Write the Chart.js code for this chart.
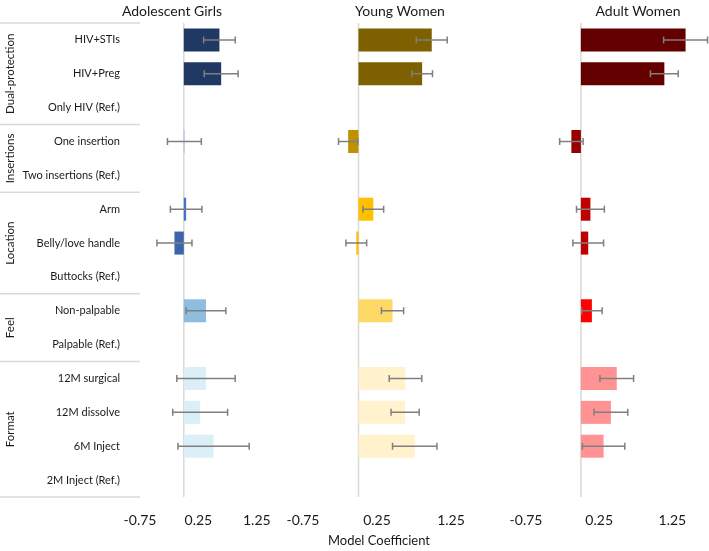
<!DOCTYPE html>
<html>
<head>
<meta charset="utf-8">
<script src="https://cdn.jsdelivr.net/npm/chart.js@4.4.0/dist/chart.umd.min.js"></script>
<style>
  body { margin: 0; background: #fff; }
  #wrap { position: relative; width: 709px; height: 551px; overflow: hidden; font-family: Lato, sans-serif; color: #1a1a1a; }
  canvas { position: absolute; top: 0; }
  .ttl { position: absolute; white-space: nowrap; transform: translateX(-50%); }
</style>
</head>
<body>
<div id="wrap">
  <canvas id="girls" width="310" height="551" style="left:0"></canvas>
  <canvas id="young" width="236" height="551" style="left:277px"></canvas>
  <canvas id="adult" width="209" height="551" style="left:500px"></canvas>
  <div class="ttl" style="left:172px; top:2px; font-size:14px">Adolescent Girls</div>
  <div class="ttl" style="left:400px; top:2px; font-size:14px">Young Women</div>
  <div class="ttl" style="left:638px; top:2px; font-size:14px">Adult Women</div>
  <div class="ttl" style="left:379px; top:532px; font-size:13px">Model Coefficient</div>
</div>
<script>
// categories, top to bottom
const categories = ['HIV+STIs', 'HIV+Preg', 'Only HIV (Ref.)', 'One insertion', 'Two insertions (Ref.)',
  'Arm', 'Belly/love handle', 'Buttocks (Ref.)', 'Non-palpable', 'Palpable (Ref.)',
  '12M surgical', '12M dissolve', '6M Inject', '2M Inject (Ref.)'];
// attribute groups and how many rows each covers
const groupNames = ['Dual-protection', 'Insertions', 'Location', 'Feel', 'Format'];
const groupSizes = [3, 2, 3, 2, 4];

// coefficients and error bar half-widths
const girlsCoef = [0.61, 0.64, 0, 0.01, 0, 0.04, -0.16, 0, 0.38, 0, 0.38, 0.28, 0.51, 0];
const girlsErr  = [0.27, 0.29, 0, 0.29, 0, 0.27, 0.30, 0, 0.34, 0, 0.50, 0.47, 0.61, 0];
const youngCoef = [0.99, 0.86, 0, -0.14, 0, 0.20, -0.03, 0, 0.46, 0, 0.635, 0.63, 0.76, 0];
const youngErr  = [0.21, 0.14, 0, 0.13, 0, 0.14, 0.14, 0, 0.15, 0, 0.22, 0.19, 0.30, 0];
const adultCoef = [1.43, 1.14, 0, -0.13, 0, 0.13, 0.10, 0, 0.15, 0, 0.49, 0.41, 0.31, 0];
const adultErr  = [0.30, 0.19, 0, 0.16, 0, 0.19, 0.21, 0, 0.14, 0, 0.23, 0.23, 0.29, 0];

const tickValues = [-0.75, 0.25, 1.25];

// one colour per group
const girlsColors = ['#203864', '#8faadc', '#4472c4', '#8fbde0', '#dbeff8'];
const youngColors = ['#7f6000', '#bf9000', '#ffc000', '#ffd966', '#fff2cc'];
const adultColors = ['#640000', '#960000', '#c00000', '#ff0000', '#ff9393'];

function perRow(cols) {
  const out = [];
  groupSizes.forEach((n, g) => { for (let i = 0; i < n; i++) out.push(cols[g]); });
  return out;
}

// belly bar a touch darker than arm in the girls panel
const girlsRowColors = perRow(girlsColors);
girlsRowColors[6] = '#3b64ad';

const zeroLine = {
  id: 'zeroLine',
  beforeDatasetsDraw(chart) {
    const { ctx, chartArea } = chart;
    const px = chart.scales.x.getPixelForValue(0);
    ctx.save();
    ctx.strokeStyle = '#d9d9d9';
    ctx.lineWidth = 1.5;
    ctx.beginPath();
    ctx.moveTo(px, chartArea.top);
    ctx.lineTo(px, chartArea.bottom);
    ctx.stroke();
    ctx.restore();
  }
};

const errorBars = {
  id: 'errorBars',
  afterDatasetsDraw(chart, args, opts) {
    const { ctx } = chart;
    const xs = chart.scales.x;
    const meta = chart.getDatasetMeta(0);
    const vals = chart.data.datasets[0].data;
    ctx.save();
    ctx.strokeStyle = '#7f7f7f';
    ctx.lineWidth = 1.5;
    opts.err.forEach((e, i) => {
      if (!e) return;
      const yc = meta.data[i].y;
      const x0 = xs.getPixelForValue(vals[i] - e);
      const x1 = xs.getPixelForValue(vals[i] + e);
      ctx.beginPath();
      ctx.moveTo(x0, yc); ctx.lineTo(x1, yc);
      ctx.moveTo(x0, yc - 3.5); ctx.lineTo(x0, yc + 3.5);
      ctx.moveTo(x1, yc - 3.5); ctx.lineTo(x1, yc + 3.5);
      ctx.stroke();
    });
    ctx.restore();
  }
};

// group separators and rotated group names, left of the first panel
const groupLabels = {
  id: 'groupLabels',
  afterDraw(chart) {
    const { ctx } = chart;
    const ys = chart.scales.y;
    const rowH = (ys.bottom - ys.top) / categories.length;
    ctx.save();
    ctx.strokeStyle = '#d9d9d9';
    ctx.lineWidth = 1.5;
    ctx.fillStyle = '#1a1a1a';
    ctx.font = '11.5px Lato';
    ctx.textAlign = 'center';
    ctx.textBaseline = 'middle';
    let start = 0;
    const lines = [ys.top];
    groupSizes.forEach((n, g) => {
      const top = ys.top + start * rowH;
      const bot = ys.top + (start + n) * rowH;
      lines.push(bot);
      ctx.save();
      ctx.translate(10, (top + bot) / 2);
      ctx.rotate(-Math.PI / 2);
      ctx.fillText(groupNames[g], 0, 0);
      ctx.restore();
      start += n;
    });
    lines.forEach(yy => {
      ctx.beginPath();
      ctx.moveTo(0, yy);
      ctx.lineTo(140, yy);
      ctx.stroke();
    });
    ctx.restore();
  }
};

Chart.defaults.font.family = 'Lato';
Chart.defaults.color = '#1a1a1a';

function makePanel(id, coef, err, colors, padding, showLabels) {
  const plugins = [zeroLine, errorBars];
  if (showLabels) plugins.push(groupLabels);
  return new Chart(document.getElementById(id), {
    type: 'bar',
    data: {
      labels: categories,
      datasets: [{
        data: coef,
        backgroundColor: colors,
        barPercentage: 0.68,
        categoryPercentage: 1
      }]
    },
    options: {
      indexAxis: 'y',
      responsive: false,
      animation: false,
      devicePixelRatio: 1,
      layout: { padding: padding },
      plugins: {
        legend: { display: false },
        tooltip: { enabled: false },
        errorBars: { err: err }
      },
      scales: {
        x: {
          min: -0.75,
          max: 1.75,
          afterBuildTicks(s) { s.ticks = tickValues.map(v => ({ value: v })); },
          afterFit(s) { s.height = 54; },
          grid: { display: false },
          border: { display: false },
          ticks: { padding: 7, font: { size: 14 }, callback: v => v.toFixed(2) }
        },
        y: showLabels ? {
          afterFit(s) { s.width = 140; },
          grid: { display: false },
          border: { display: false },
          ticks: { padding: 12, autoSkip: false, font: { size: 11 } }
        } : { display: false }
      }
    },
    plugins: plugins
  });
}

makePanel('girls', girlsCoef, girlsErr, girlsRowColors, { top: 23, right: 24, left: 0, bottom: 0 }, true);
makePanel('young', youngCoef, youngErr, perRow(youngColors), { top: 23, right: 25, left: 26, bottom: 0 }, false);
makePanel('adult', adultCoef, adultErr, perRow(adultColors), { top: 23, right: 0, left: 26, bottom: 0 }, false);
</script>
</body>
</html>
